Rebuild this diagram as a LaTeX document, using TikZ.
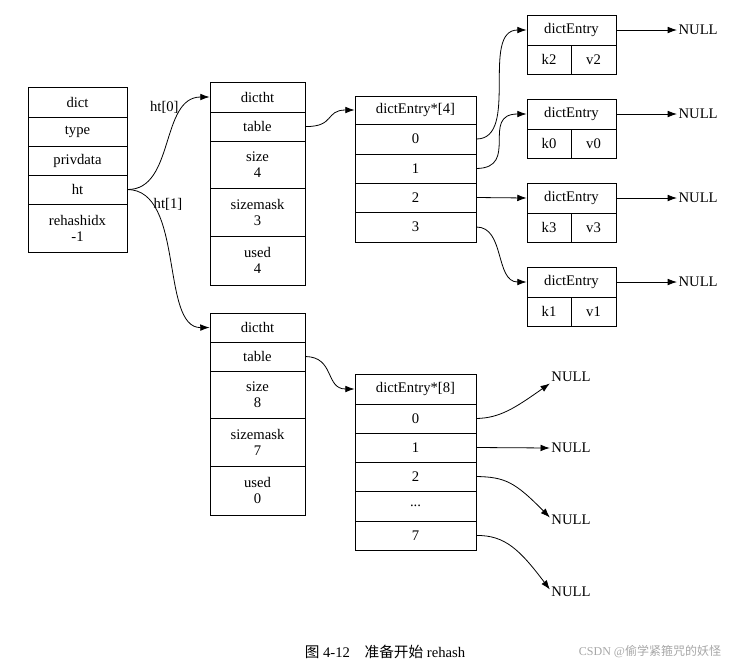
\documentclass[tikz,border=0pt]{standalone}
\usepackage{fontspec}
\setmainfont{Liberation Serif}
\newfontfamily\cjk{Noto Sans CJK SC}
\usetikzlibrary{arrows.meta}
\begin{document}
\begin{tikzpicture}[x=0.75pt,y=-0.75pt,
  cell/.style={draw,line width=0.6pt,inner sep=0pt,align=center,font=\fontsize{11}{12}\selectfont},
  lab/.style={inner sep=1pt,font=\fontsize{11}{12}\selectfont},
  arr/.style={-{Latex[length=7pt,width=5pt]},line width=0.6pt}]
\useasboundingbox (0,0) rectangle (744,669);
% generic cell: name, x1,y1,x2,y2,text
\newcommand\cellbox[6]{\node[cell,minimum width={(#4-#2)*0.75pt},minimum height={(#5-#3)*0.75pt}] (#1) at ({(#2+#4)/2},{(#3+#5)/2}) {#6};}
% dict
\cellbox{d0}{28}{87}{127}{117}{dict}
\cellbox{d1}{28}{117}{127}{146}{type}
\cellbox{d2}{28}{146}{127}{175}{privdata}
\cellbox{d3}{28}{175}{127}{204}{ht}
\cellbox{d4}{28}{204}{127}{252}{rehashidx\\-1}
% dictht 1
\cellbox{a0}{210}{82}{305}{112}{dictht}
\cellbox{a1}{210}{112}{305}{141}{table}
\cellbox{a2}{210}{141}{305}{188}{size\\4}
\cellbox{a3}{210}{188}{305}{236}{sizemask\\3}
\cellbox{a4}{210}{236}{305}{285}{used\\4}
% dictht 2
\cellbox{b0}{210}{313}{305}{342}{dictht}
\cellbox{b1}{210}{342}{305}{371}{table}
\cellbox{b2}{210}{371}{305}{418}{size\\8}
\cellbox{b3}{210}{418}{305}{466}{sizemask\\7}
\cellbox{b4}{210}{466}{305}{515}{used\\0}
% table 4
\cellbox{t0}{355}{96}{476}{124}{dictEntry*[4]}
\cellbox{t1}{355}{124}{476}{154}{0}
\cellbox{t2}{355}{154}{476}{183}{1}
\cellbox{t3}{355}{183}{476}{212}{2}
\cellbox{t4}{355}{212}{476}{242}{3}
% table 8
\cellbox{u0}{355}{374}{476}{404}{dictEntry*[8]}
\cellbox{u1}{355}{404}{476}{433}{0}
\cellbox{u2}{355}{433}{476}{462}{1}
\cellbox{u3}{355}{462}{476}{491}{2}
\cellbox{u4}{355}{491}{476}{521}{...}
\cellbox{u5}{355}{521}{476}{550}{7}
% entries
\cellbox{e1}{527}{15}{616}{45}{dictEntry}
\cellbox{e1k}{527}{45}{571}{74}{k2}
\cellbox{e1v}{571}{45}{616}{74}{v2}
\cellbox{e2}{527}{99}{616}{129}{dictEntry}
\cellbox{e2k}{527}{129}{571}{158}{k0}
\cellbox{e2v}{571}{129}{616}{158}{v0}
\cellbox{e3}{527}{183}{616}{213}{dictEntry}
\cellbox{e3k}{527}{213}{571}{242}{k3}
\cellbox{e3v}{571}{213}{616}{242}{v3}
\cellbox{e4}{527}{267}{616}{297}{dictEntry}
\cellbox{e4k}{527}{297}{571}{326}{k1}
\cellbox{e4v}{571}{297}{616}{326}{v1}
% NULLs
\node[lab,anchor=west] (n1) at (677,30) {NULL};
\node[lab,anchor=west] (n2) at (677,114) {NULL};
\node[lab,anchor=west] (n3) at (677,198) {NULL};
\node[lab,anchor=west] (n4) at (677,282) {NULL};
\node[lab] (m1) at (571,377) {NULL};
\node[lab] (m2) at (571,448) {NULL};
\node[lab] (m3) at (571,520) {NULL};
\node[lab] (m4) at (571,592) {NULL};
\foreach \i in {1,2,3,4}{\draw[arr] (e\i.east) -- (n\i.west);}
% dict -> dictht
\draw[arr] (d3.east) .. controls (175,190) and (160,97) .. (a0.west) node[lab,pos=0.72,above left] {ht[0]};
\node[lab] at (168,204) {ht[1]};
\draw[arr] (d3.east) .. controls (185,190) and (160,328) .. (b0.west);
\draw[arr] (a1.east) .. controls (335,127) and (325,110) .. (t0.west);
\draw[arr] (b1.east) .. controls (335,357) and (325,389) .. (u0.west);
\draw[arr] (t1.east) .. controls (520,139) and (480,30) .. (e1.west);
\draw[arr] (t2.east) .. controls (520,168) and (480,114) .. (e2.west);
\draw[arr] (t3.east) -- (e3.west);
\draw[arr] (t4.east) .. controls (505,227) and (495,282) .. (e4.west);
\draw[arr] (u1.east) .. controls (500,418) and (515,408) .. (m1.south west);
\draw[arr] (u2.east) -- (m2.west);
\draw[arr] (u3.east) .. controls (505,477) and (515,482) .. ([yshift=-3pt]m3.north west);
\draw[arr] (u5.east) .. controls (505,535) and (520,550) .. ([yshift=-3pt]m4.north west);
\node[lab] at (385,652) {{\cjk 图} 4-12\quad{\cjk 准备开始} rehash};
\node[lab,text=gray!70,font=\fontsize{9}{10}\selectfont] at (650,652) {CSDN @{\cjk 偷学紧箍咒的妖怪}};
\end{tikzpicture}
\end{document}
